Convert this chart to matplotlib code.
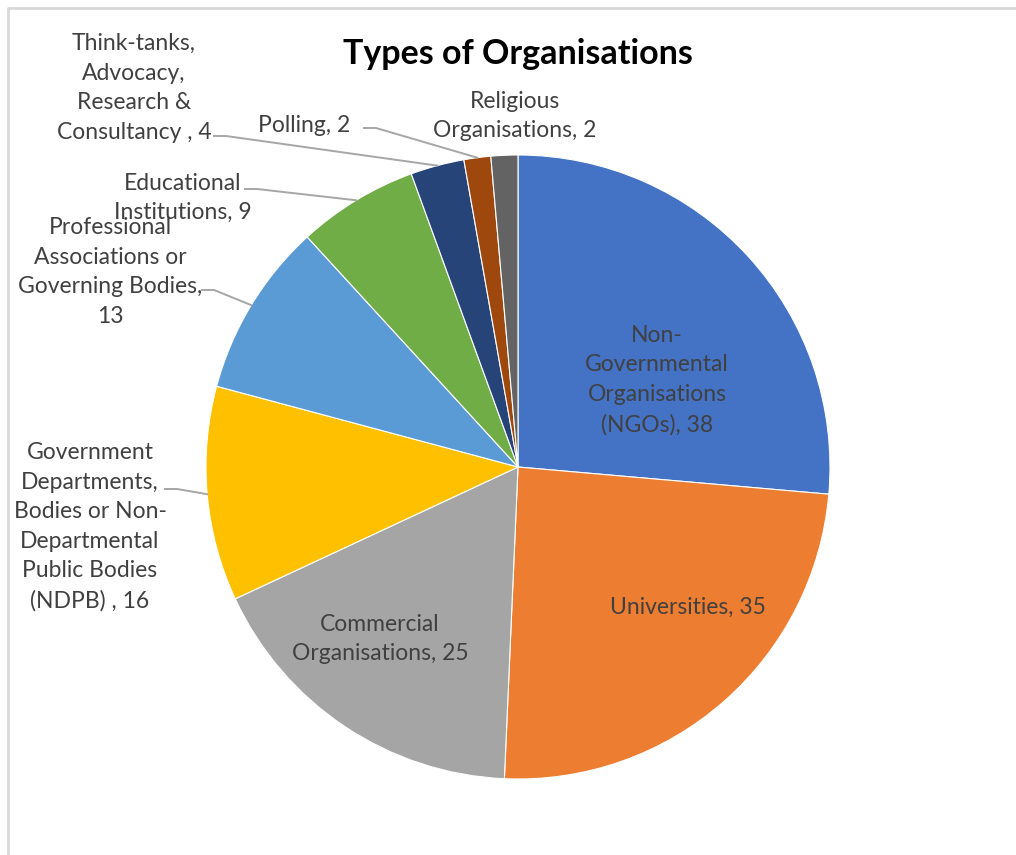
import numpy as np
import matplotlib
matplotlib.use("Agg")
import matplotlib.pyplot as plt

# data (clockwise from 12 o'clock)
labels = [
    "Non-\nGovernmental\nOrganisations\n(NGOs), 38",
    "Universities, 35",
    "Commercial\nOrganisations, 25",
    "Government\nDepartments,\nBodies or Non-\nDepartmental\nPublic Bodies\n(NDPB) , 16",
    "Professional\nAssociations or\nGoverning Bodies,\n13",
    "Educational\nInstitutions, 9",
    "Think-tanks,\nAdvocacy,\nResearch &\nConsultancy , 4",
    "Polling, 2",
    "Religious\nOrganisations, 2",
]
values = [38, 35, 25, 16, 13, 9, 4, 2, 2]
colors = ["#4472C4", "#ED7D31", "#A5A5A5", "#FFC000", "#5B9BD5",
          "#70AD47", "#264478", "#9E480E", "#636363"]

# label text centres in pixels measured from the top-left, and leader starts
label_pos = [(657, 380), (688, 607), (380, 639), (90, 527), (110, 272),
             (183, 198), (134, 88), (304, 126), (515, 116)]
leader_from = [None, None, None, (165, 489), (202, 290), (245, 189),
               (214, 136), (364, 128), None]

W, H = 1016, 855
CX, CY, R = 518, 467, 312
TXT = "#404040"

plt.rcParams["font.family"] = ["Lato", "DejaVu Sans"]

fig = plt.figure(figsize=(W / 100, H / 100), dpi=100)
ax = fig.add_axes([0, 0, 1, 1])


def fy(y):
    return H - y


# outer chart frame
ax.plot([8, 8, W + 5], [-5, fy(8), fy(8)], color="#d9d9d9", lw=2,
        solid_capstyle="butt")

ax.pie(values, colors=colors, startangle=90, counterclock=False,
       center=(CX, fy(CY)), radius=R,
       wedgeprops=dict(edgecolor="white", linewidth=0.8))
ax.set_xlim(0, W)
ax.set_ylim(0, H)
ax.set_aspect("auto")
ax.axis("off")

total = sum(values)
start = 90.0
for lab, v, pos, lf in zip(labels, values, label_pos, leader_from):
    span = v / total * 360
    mid = np.deg2rad(start - span / 2)
    start -= span
    ax.text(pos[0], fy(pos[1]), lab, ha="center", va="center", fontsize=16.5,
            color=TXT, linespacing=1.5)
    if lf is not None:
        ex, ey = CX + R * np.cos(mid), CY - R * np.sin(mid)
        ax.plot([lf[0], lf[0] + 12, ex], [fy(lf[1]), fy(lf[1]), fy(ey)],
                color="#a6a6a6", lw=1.4)

ax.text(518, fy(54), "Types of Organisations", ha="center", va="center",
        fontsize=24.5, fontweight="bold", color="black")

fig.savefig("out.png", dpi=100)
